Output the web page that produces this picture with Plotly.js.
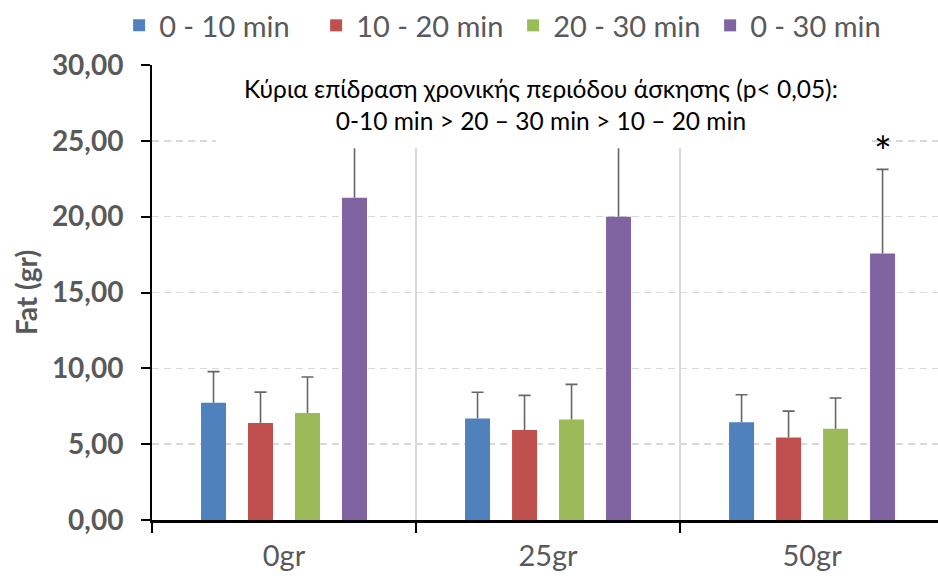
<!DOCTYPE html>
<html>
<head>
<meta charset="utf-8">
<script src="https://cdn.plot.ly/plotly-3.0.1.min.js"></script>
<style>
  html, body { margin: 0; padding: 0; background: #fff; }
  #chart { width: 938px; height: 576px; }
</style>
</head>
<body>
<div id="chart"></div>
<script>
// Fat oxidation (gr) per exercise period, grouped by supplement dose
const categories = ['0gr', '25gr', '50gr'];
const seriesNames = ['0 - 10 min', '10 - 20 min', '20 - 30 min', '0 - 30 min'];
const seriesColors = ['#4F81BD', '#C0504D', '#9BBB59', '#8064A2'];

const fat_0_10  = [7.73, 6.70, 6.45];
const fat_10_20 = [6.39, 5.93, 5.44];
const fat_20_30 = [7.05, 6.63, 6.01];
const fat_0_30  = [21.25, 19.99, 17.57];

const sd_0_10  = [2.05, 1.72, 1.81];
const sd_10_20 = [2.04, 2.29, 1.74];
const sd_20_30 = [2.38, 2.31, 2.03];
const sd_0_30  = [4.5, 5.2, 5.55];

const yTicks = [0, 5, 10, 15, 20, 25, 30];
const noteText = 'Κύρια επίδραση χρονικής περιόδου άσκησης (p&lt; 0,05):<br>0-10 min &gt; 20 – 30 min &gt; 10 – 20 min';
const sigMark = '*';
const sigIndex = 2; // 50gr, 0 - 30 min

const FONT = 'Lato, Carlito, "Liberation Sans", sans-serif';
const GREY = '#595959';
const ERR = '#666666';

const values = [fat_0_10, fat_10_20, fat_20_30, fat_0_30];
const errors = [sd_0_10, sd_10_20, sd_20_30, sd_0_30];

// visible bars with an upward whisker (no caps, so nothing is drawn on the bar top)
const barTraces = seriesNames.map((name, i) => ({
  type: 'bar',
  name: name,
  offsetgroup: String(i),
  x: categories,
  y: values[i],
  marker: { color: seriesColors[i], line: { width: 0 } },
  error_y: {
    type: 'data',
    array: errors[i],
    symmetric: false,
    arrayminus: errors[i].map(() => 0),
    color: ERR,
    thickness: 1.6,
    width: 0
  },
  hoverinfo: 'skip'
}));

// transparent segments spanning the whisker; their zero-length error bar draws the top cap
const capTraces = seriesNames.map((name, i) => ({
  type: 'bar',
  name: name + ' cap',
  showlegend: false,
  offsetgroup: String(i),
  x: categories,
  base: values[i],
  y: errors[i],
  marker: { color: 'rgba(0,0,0,0)', line: { width: 0 } },
  error_y: {
    type: 'data',
    array: errors[i].map(() => 0),
    symmetric: true,
    color: ERR,
    thickness: 1.6,
    width: 6
  },
  hoverinfo: 'skip'
}));

const bargap = 0.288;
const nSeries = seriesNames.length;
// centre of the last bar within its category slot
const lastBarOffset = (nSeries - 1) / 2 * (1 - bargap) / nSeries;

const layout = {
  width: 938,
  height: 576,
  margin: { l: 152, r: 0, t: 65, b: 56, pad: 0 },
  paper_bgcolor: '#fff',
  plot_bgcolor: '#fff',
  separators: ',.',
  font: { family: FONT, color: GREY },
  barmode: 'group',
  bargap: bargap,
  bargroupgap: 0.468,
  showlegend: true,
  legend: {
    orientation: 'h',
    xref: 'container', yref: 'container',
    x: 0.127, y: 1.0,
    xanchor: 'left', yanchor: 'top',
    entrywidth: 152,
    entrywidthmode: 'pixels',
    font: { size: 29, color: GREY, family: FONT },
    bgcolor: 'rgba(0,0,0,0)'
  },
  xaxis: {
    type: 'category',
    categoryorder: 'array',
    categoryarray: categories,
    range: [-0.5, 2.477],
    tickson: 'boundaries',
    ticks: 'outside',
    ticklen: 10,
    tickwidth: 2,
    tickcolor: '#000',
    showline: true,
    linecolor: '#000',
    linewidth: 3,
    showgrid: true,
    gridcolor: '#d9d9d9',
    gridwidth: 1.5,
    zeroline: false,
    tickfont: { size: 29, color: GREY, family: FONT },
    ticklabelstandoff: 8,
    fixedrange: true
  },
  xaxis2: {
    type: 'category',
    categoryorder: 'array',
    categoryarray: categories,
    range: [-0.5, 2.477],
    overlaying: 'x',
    anchor: 'y',
    side: 'bottom',
    ticks: 'outside',
    ticklen: 8,
    tickwidth: 2,
    tickcolor: '#000',
    showticklabels: false,
    showline: false,
    showgrid: false,
    zeroline: false,
    fixedrange: true
  },
  yaxis: {
    range: [0, 30],
    tickvals: yTicks,
    tickformat: '.2f',
    ticks: 'outside',
    ticklen: 9,
    tickwidth: 2,
    tickcolor: '#000',
    showline: true,
    linecolor: '#000',
    linewidth: 2,
    showgrid: true,
    gridcolor: '#d9d9d9',
    gridwidth: 1.5,
    griddash: '7px,5px',
    zeroline: false,
    tickfont: { size: 28, color: GREY, family: FONT, weight: 'bold' },
    ticklabelstandoff: 12,
    title: {
      text: 'Fat (gr)',
      font: { size: 28, color: GREY, family: FONT, weight: 'bold' },
      standoff: 6
    },
    fixedrange: true
  },
  shapes: [{
    type: 'rect',
    layer: 'above',
    xref: 'paper', yref: 'paper',
    x0: 0.0814, x1: 0.9097,
    y0: 0.817, y1: 1.02,
    fillcolor: '#fff',
    line: { width: 0 }
  }],
  annotations: [
    {
      xref: 'paper', yref: 'paper',
      x: 0.495, y: 0.913,
      xanchor: 'center', yanchor: 'middle',
      showarrow: false,
      align: 'center',
      text: noteText,
      font: { size: 24.5, color: '#000', family: FONT }
    },
    {
      xref: 'x', yref: 'y',
      x: sigIndex + lastBarOffset,
      y: fat_0_30[sigIndex] + sd_0_30[sigIndex],
      xanchor: 'center', yanchor: 'bottom',
      yshift: -9,
      showarrow: false,
      text: sigMark,
      font: { size: 42, color: '#000', family: FONT }
    }
  ]
};

Plotly.newPlot('chart', barTraces.concat(capTraces), layout, { displayModeBar: false, staticPlot: true });
</script>
</body>
</html>
